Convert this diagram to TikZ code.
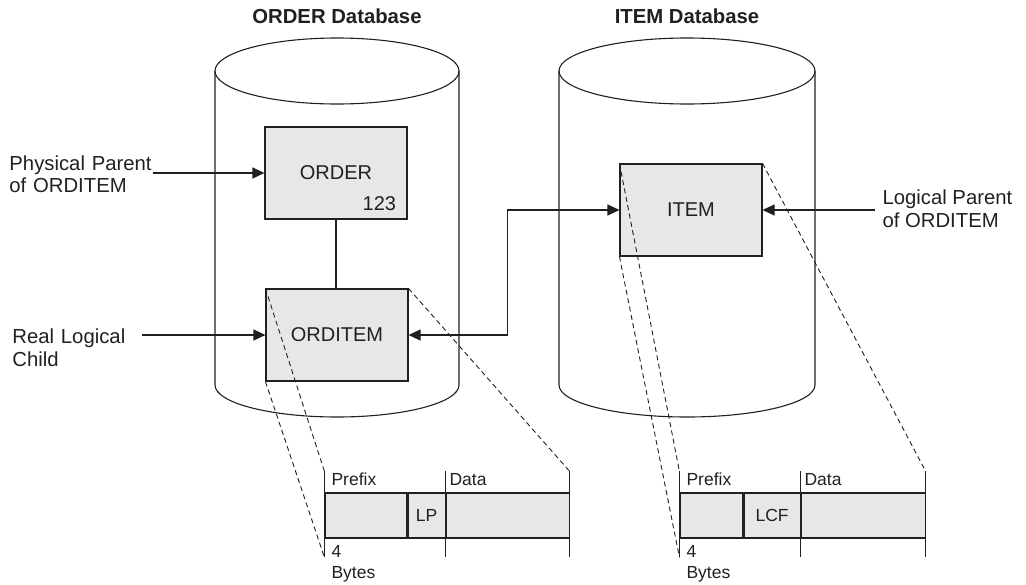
\documentclass[tikz,border=0pt]{standalone}
\usepackage{fontspec}
\setmainfont{Liberation Sans}
\usetikzlibrary{arrows.meta, positioning, calc}
\definecolor{inkdark}{HTML}{231F20}
\definecolor{segfill}{HTML}{E6E7E8}

\begin{document}
\begin{tikzpicture}[
    x=1pt, y=-1pt,
    line width=1.1pt, color=inkdark,
    seg/.style={rectangle, draw=inkdark, fill=segfill, minimum width=142pt, minimum height=92pt, font=\fontsize{20}{23}\selectfont},
    cell/.style={rectangle, draw=inkdark, fill=segfill, minimum height=45pt, inner sep=0pt, font=\fontsize{17.5}{20}\selectfont},
    arrow/.style={-{Triangle[length=12pt, width=11pt]}, line width=1.1pt, color=inkdark},
    biarrow/.style={{Triangle[length=12pt, width=11pt]}-{Triangle[length=12pt, width=11pt]}, line width=1.1pt, color=inkdark},
    guide/.style={dash pattern=on 5pt off 3.5pt, line width=0.9pt, color=inkdark},
    title/.style={font=\fontsize{20.3}{23}\selectfont\bfseries},
    label/.style={font=\fontsize{20.3}{22.5}\selectfont, align=left, inner sep=0pt},
    small/.style={font=\fontsize{17.5}{20}\selectfont, inner sep=0pt}
]
\useasboundingbox (0,0) rectangle (1026,584);

% ORDER database
\node[title] (ordtitle) at (337,16) {ORDER Database};
\draw (337,71) ellipse [x radius=122pt, y radius=33pt];
\draw (215,71) -- (215,385) arc[start angle=180, end angle=360, x radius=122pt, y radius=32pt] -- (459,71);

% ITEM database
\node[title] (itmtitle) at (687,16) {ITEM Database};
\draw (687,71) ellipse [x radius=128pt, y radius=33pt];
\draw (559,71) -- (559,385) arc[start angle=180, end angle=360, x radius=128pt, y radius=32pt] -- (815,71);

% Segments
\node[seg] (order) at (336,173) {ORDER};
\node[font=\fontsize{20}{23}\selectfont, inner sep=0pt, anchor=base east] (ordkey) at ([xshift=-11pt, yshift=9pt]order.south east) {123};
\node[seg] (orditem) at (337,335) {ORDITEM};
\node[seg] (item) at (691,210) {ITEM};

\draw (order.south) -- (order.south |- orditem.north);
\draw[biarrow] (orditem.east) -- ++(99,0) |- (item.west);

% Side labels
\node[label, text width=143pt, anchor=east] (physlbl) at (153,174) {Physical Parent\\of ORDITEM};
\node[label, text width=129pt, anchor=east] (reallbl) at (142,347.5) {Real Logical\\Child};
\node[label, anchor=west] (logpar) at (882,208.5) {Logical Parent\\of ORDITEM};

\draw[arrow] (physlbl.east |- order.west) -- (order.west);
\draw[arrow] (orditem.west -| reallbl.east) -- (orditem.west);
\draw[arrow] ([xshift=-7pt]item.east -| logpar.west) -- (item.east);

% ORDITEM layout
\node[cell, minimum width=82pt] (opre) at (366,515.5) {};
\node[cell, minimum width=37pt, right=0pt of opre] (olp) {LP};
\node[cell, minimum width=123pt, right=0pt of olp] (odat) {};
\draw (opre.north west) ++(0,-21) coordinate (otl) -- ++(0,86) coordinate (obl);
\draw (odat.north west) ++(0,-21) -- ++(0,86);
\draw (odat.north east) ++(0,-21) coordinate (otr) -- ++(0,86);
\node[small, anchor=base west] (opfx) at (331,485) {Prefix};
\node[small, anchor=base west] (odtxt) at (449,485) {Data};
\node[small, anchor=base west] (ofour) at (331,557) {4};
\node[small, anchor=base west] (obytes) at (331,578) {Bytes};

\draw[guide] (orditem.north west) -- (otl);
\draw[guide] (orditem.south west) -- (obl);
\draw[guide] (orditem.north east) -- (otr);

% ITEM layout
\node[cell, minimum width=63pt] (ipre) at (711.5,515.5) {};
\node[cell, minimum width=56pt, right=0pt of ipre] (ilcf) {LCF};
\node[cell, minimum width=124pt, right=0pt of ilcf] (idat) {};
\draw (ipre.north west) ++(0,-21) coordinate (itl) -- ++(0,86) coordinate (ibl);
\draw (idat.north west) ++(0,-21) -- ++(0,86);
\draw (idat.north east) ++(0,-21) coordinate (itr) -- ++(0,86);
\node[small, anchor=base west] (ipfx) at (686,485) {Prefix};
\node[small, anchor=base west] (idtxt) at (804,485) {Data};
\node[small, anchor=base west] (ifour) at (686,557) {4};
\node[small, anchor=base west] (ibytes) at (686,578) {Bytes};

\draw[guide] (item.north west) -- (itl);
\draw[guide] (item.south west) -- (ibl);
\draw[guide] (item.north east) -- (itr);

\end{tikzpicture}
\end{document}
